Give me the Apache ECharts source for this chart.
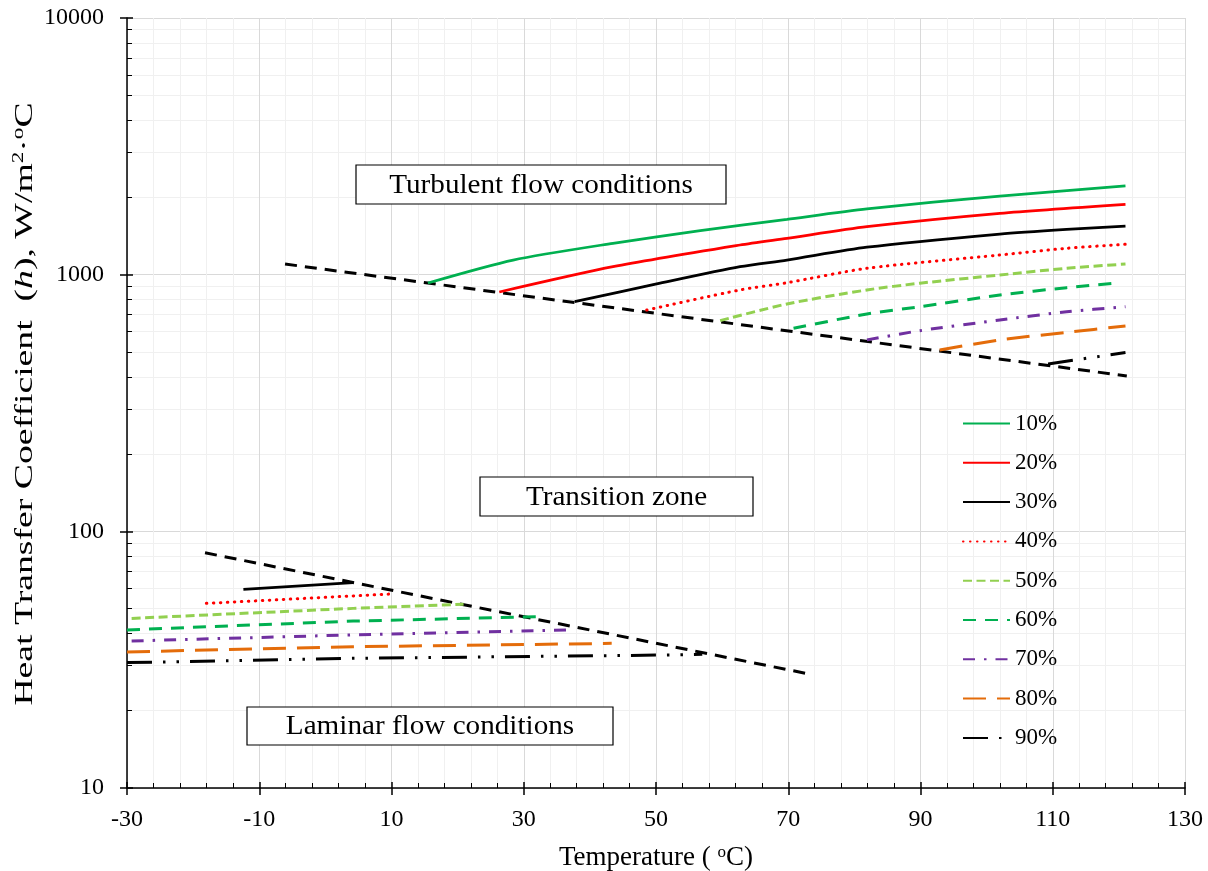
<!DOCTYPE html>
<html><head><meta charset="utf-8">
<script src="https://cdn.jsdelivr.net/npm/echarts@6/dist/echarts.min.js"></script>
<style>html,body{margin:0;padding:0;background:#fff}#c{width:1208px;height:871px}</style>
</head><body><div id="c"></div>
<script>
// ---- data (Temperature °C, h W/m2·°C) ----
const legendNames = ['10%','20%','30%','40%','50%','60%','70%','80%','90%'];
const xTicks = [-30,-10,10,30,50,70,90,110,130];
const yTicks = [10,100,1000,10000];

// turbulent-flow branches
const turb10 = [[15.5,928],[28.4,1140],[43.5,1325],[56.7,1484],[69.8,1643],[81.9,1803],[102,2025],[121,2216]];
const turb20 = [[26.3,856],[43.5,1074],[62.7,1305],[69.8,1386],[81.9,1538],[102,1734],[121,1880]];
const turb30 = [[37.7,785],[50.1,920],[62.7,1074],[69.8,1140],[81.9,1279],[102,1440],[112.1,1502],[121,1547]];
const turb40 = [[48.6,728],[62.7,872],[69.8,930],[81.9,1059],[102,1193],[112.1,1267],[121,1313]];
const turb50 = [[59.7,662],[69.8,769],[81.9,872],[89.9,926],[102,997],[112.1,1059],[121,1100]];
const turb60 = [[70.8,618],[81.9,703],[89.9,750],[102,833],[112.1,890],[120,930]];
const turb70 = [[81.9,557],[89.9,605],[102,666],[112.1,717],[121,750]];
const turb80 = [[92.9,509],[102,557],[112.1,596],[121,631]];
const turb90 = [[109.3,449],[121,497]];

// laminar-flow branches
const lam30 = [[-12.4,59.4],[4.2,63.1]];
const lam40 = [[-18,52.4],[9.9,57.0]];
const lam50 = [[-29.3,45.8],[4.2,50.1],[20.9,52.0]];
const lam60 = [[-30,41.3],[4.2,44.7],[32,46.5]];
const lam70 = [[-29.3,37.4],[4.2,39.5],[37,41.3]];
const lam80 = [[-30,33.9],[4.2,35.5],[43.3,36.6]];
const lam90 = [[-30,30.8],[4.2,32.0],[52.9,33.0],[57,33.2]];

// regime boundaries
const turbBoundary = [[-6.1,1100],[121.2,403]];
const lamBoundary = [[-18.2,82.5],[73.5,27.7]];

// ---- styles ----
const FONT = '"Liberation Serif", "Times New Roman", serif';
const styles = {
  '10%': {color:'#00b050', type:'solid', cap:'butt', width:2.75},
  '20%': {color:'#ff0000', type:'solid', cap:'butt', width:2.75},
  '30%': {color:'#000000', type:'solid', cap:'butt', width:2.75},
  '40%': {color:'#ff0000', type:[0.5,6.5], cap:'round', width:3},
  '50%': {color:'#92d050', type:[9,4.5], cap:'butt', width:3},
  '60%': {color:'#00b050', type:[13,9], cap:'butt', width:3},
  '70%': {color:'#7030a0', type:[12,9,2.5,9], cap:'butt', width:3},
  '80%': {color:'#e46c0a', type:[23,11], cap:'butt', width:3},
  '90%': {color:'#000000', type:[25,11,2.5,11,2.5,11], cap:'butt', width:3}
};
function mk(name, data, smooth) {
  const s = styles[name];
  return {name, type:'line', data, symbol:'none', showSymbol:false, silent:true,
    smooth: smooth ? 0.25 : false,
    lineStyle:{color:s.color, width:s.width, type:s.type, cap:s.cap},
    itemStyle:{color:s.color}, z:4};
}
function boundary(data) {
  return {type:'line', data, symbol:'none', showSymbol:false, silent:true,
    lineStyle:{color:'#000', width:3, type:[12,8]}, z:3};
}
const series = [
  mk('10%', turb10, true), mk('20%', turb20, true), mk('30%', turb30, true), mk('40%', turb40, true),
  mk('50%', turb50, true), mk('60%', turb60, true), mk('70%', turb70, true), mk('80%', turb80, true), mk('90%', turb90, true),
  mk('30%', lam30), mk('40%', lam40), mk('50%', lam50), mk('60%', lam60),
  mk('70%', lam70), mk('80%', lam80), mk('90%', lam90),
  boundary(turbBoundary), boundary(lamBoundary)
];

function box(x, y, w, h, text) {
  return {type:'group', children:[
    {type:'rect', z:100, shape:{x, y, width:w, height:h}, style:{fill:'#fff', stroke:'#000', lineWidth:1.2}},
    {type:'text', z:101, x:x + w/2, y:y + h/2 + 1, scaleX:1.08,
      style:{text, font:'27px ' + FONT, fill:'#000', align:'center', verticalAlign:'middle'}}
  ]};
}

const axisText = {fontFamily:FONT, fontSize:24, color:'#000'};
const chart = echarts.init(document.getElementById('c'), null, {renderer:'canvas'});
chart.setOption({
  animation:false,
  backgroundColor:'#fff',
  grid:{left:127, right:23, top:18, bottom:83, containLabel:false, outerBoundsMode:'none'},
  legend:{data:legendNames, orient:'vertical', left:962, top:412, padding:0, itemWidth:47, itemHeight:20, itemGap:16.3,
    itemStyle:{opacity:0},
    textStyle:{fontFamily:FONT, fontSize:23, color:'#000'}, selectedMode:false},
  xAxis:[{
    type:'value', min:xTicks[0], max:xTicks[xTicks.length-1], interval:20,
    axisLine:{onZero:false, lineStyle:{color:'#000', width:1.5}},
    axisTick:{inside:true, length:6, lineStyle:{color:'#000', width:1.5}},
    minorTick:{show:true, splitNumber:5, length:5, lineStyle:{color:'#000', width:1}},
    splitLine:{show:true, lineStyle:{color:'#d9d9d9', width:1}},
    minorSplitLine:{show:true, lineStyle:{color:'#f0f0f0', width:1}},
    axisLabel:Object.assign({margin:20}, axisText),
    name:'Temperature ( {s|o}C)', nameLocation:'middle', nameGap:56,
    nameTextStyle:{fontFamily:FONT, fontSize:27, color:'#000', lineHeight:28,
      rich:{s:{fontFamily:FONT, fontSize:17, lineHeight:17, verticalAlign:'top', color:'#000'}}}
  },{
    type:'value', min:xTicks[0], max:xTicks[xTicks.length-1], interval:20, position:'bottom',
    axisLine:{show:false, onZero:false}, axisTick:{show:true, inside:false, length:7, lineStyle:{color:'#000', width:1.5}},
    axisLabel:{show:false}, splitLine:{show:false}
  }],
  yAxis:[{
    type:'log', logBase:10, min:yTicks[0], max:yTicks[yTicks.length-1],
    axisLine:{show:true, onZero:false, lineStyle:{color:'#000', width:1.5}},
    axisTick:{show:true, inside:true, length:6, lineStyle:{color:'#000', width:1.5}},
    minorTick:{show:true, splitNumber:9, length:5, lineStyle:{color:'#000', width:1}},
    splitLine:{show:true, lineStyle:{color:'#d9d9d9', width:1}},
    minorSplitLine:{show:true, lineStyle:{color:'#f0f0f0', width:1}},
    axisLabel:Object.assign({margin:23, formatter:v => String(v)}, axisText)
  },{
    type:'log', logBase:10, min:yTicks[0], max:yTicks[yTicks.length-1], position:'left',
    axisLine:{show:false, onZero:false}, axisTick:{show:true, inside:false, length:7, lineStyle:{color:'#000', width:1.5}},
    axisLabel:{show:false}, splitLine:{show:false}
  }],
  graphic:[
    box(356, 165, 370, 39, 'Turbulent flow conditions'),
    box(480, 477, 273, 39, 'Transition zone'),
    box(247, 707, 366, 38, 'Laminar flow conditions'),
    {type:'text', z:101, x:25, y:404, rotation:Math.PI/2, scaleX:1.45,
      style:{text:'Heat Transfer Coefficient  ({i|h}), W/m{s|2}·{s|o}C', font:'26px ' + FONT, fill:'#000',
        align:'center', verticalAlign:'middle',
        rich:{i:{fontFamily:FONT, fontSize:26, fontStyle:'italic', fill:'#000', lineHeight:28},
              s:{fontFamily:FONT, fontSize:16, lineHeight:16, verticalAlign:'top', fill:'#000'}}}}
  ],
  series
});
</script></body></html>
